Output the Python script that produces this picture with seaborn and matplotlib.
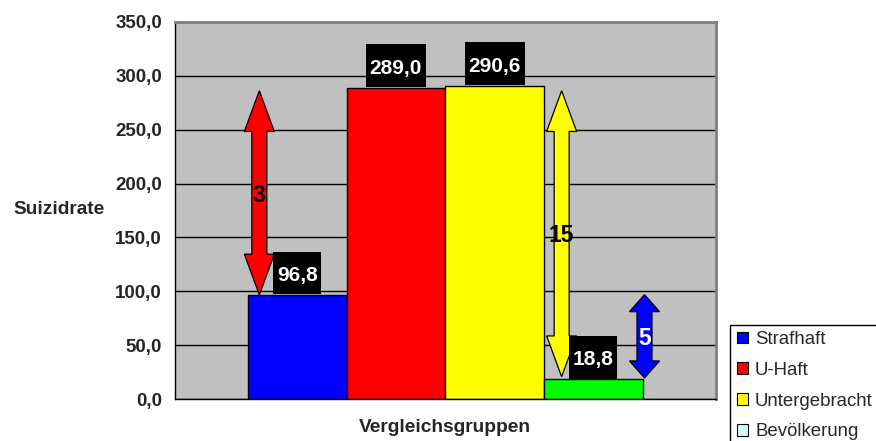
import matplotlib
matplotlib.use("Agg")
import matplotlib.pyplot as plt
import seaborn as sns
import pandas as pd
import numpy as np
from matplotlib.path import Path
from matplotlib.patches import Patch, Polygon
from matplotlib.ticker import FuncFormatter, MultipleLocator

# ---- data ----
groups = ["Strafhaft", "U-Haft", "Untergebracht", "Bevölkerung"]
values = [96.8, 289.0, 290.6, 18.8]
bar_colors = ["#0000FF", "#FF0000", "#FFFF00", "#00FF00"]
legend_colors = ["#0000FF", "#FF0000", "#FFFF00", "#CCFFFF"]
value_labels = ["96,8", "289,0", "290,6", "18,8"]
# ratio arrows
arrow_labels = ["3", "15", "5"]
arrow_x = [-0.385, 2.68, 3.52]
arrow_from = [96.8, 21.0, 19.8]
arrow_to = [286.0, 286.0, 97.0]
arrow_fill = ["#FF0000", "#FFFF00", "#0000FF"]
arrow_text_col = ["#000000", "#000000", "#FFFFFF"]
arrow_text_y = [189.0, 152.0, 56.0]
arrow_head_len_px = [40.7, 40.7, 17.0]

sns.set_style("white")
plt.rcParams["font.family"] = ["Liberation Sans", "DejaVu Sans"]

W, H, DPI = 876, 441, 100
fig = plt.figure(figsize=(W / DPI, H / DPI), dpi=DPI)
L, R, T, B = 174.5, 716.0, 21.7, 399.3
ax = fig.add_axes([L / W, (H - B) / H, (R - L) / W, (B - T) / H])
ax.set_facecolor("#C0C0C0")

df = pd.DataFrame({"Gruppe": groups, "Wert": values})
sns.barplot(data=df, x="Gruppe", y="Wert", hue="Gruppe", order=groups, hue_order=groups,
            palette=dict(zip(groups, bar_colors)), saturation=1.0, width=1.0, dodge=False,
            edgecolor="black", linewidth=1.0, legend=False, ax=ax, zorder=2)

xl0, xl1 = -1.245, 4.245
ax.set_xlim(xl0, xl1)
ax.set_ylim(0, 350)
ax.yaxis.set_major_locator(MultipleLocator(50))
ax.yaxis.set_major_formatter(FuncFormatter(lambda v, p: f"{v:.1f}".replace(".", ",")))
ax.set_xticks([xl0, xl1])
ax.set_xticklabels(["", ""])
ax.tick_params(axis="both", direction="out", length=6, width=1, color="black")
ax.tick_params(axis="y", labelsize=13.5, pad=3)
for lab in ax.get_yticklabels():
    lab.set_fontweight("bold")

ax.grid(axis="y", color="black", linewidth=1.0)
ax.grid(axis="x", visible=False)
ax.set_axisbelow(True)

for s in ["left", "bottom"]:
    ax.spines[s].set_color("black")
    ax.spines[s].set_linewidth(1.0)
for s in ["top", "right"]:
    ax.spines[s].set_color("#808080")
    ax.spines[s].set_linewidth(2.0)
    ax.spines[s].set_visible(True)

ax.set_xlabel("Vergleichsgruppen", fontsize=13.8, fontweight="bold", va="center")
ax.xaxis.set_label_coords(0.5, -(427.7 - B) / (B - T))
ax.set_ylabel("Suizidrate", fontsize=13.8, fontweight="bold", rotation=0, va="center", ha="center")
ax.yaxis.set_label_coords(-0.214, (B - 209) / (B - T))


# value label boxes (black, taller than text)
def label_box(x0, y0, width, height, mutation_size):
    ms = mutation_size
    base = y0 + 0.21 * ms
    xl = x0 - 0.18 * ms
    xr = x0 + width + 0.18 * ms
    yb = base - 0.67 * ms
    yt = base + 1.39 * ms
    return Path([(xl, yb), (xr, yb), (xr, yt), (xl, yt), (xl, yb)],
                [Path.MOVETO, Path.LINETO, Path.LINETO, Path.LINETO, Path.CLOSEPOLY])


for i, (v, lab) in enumerate(zip(values, value_labels)):
    ax.annotate(lab, xy=(i, v), xytext=(0, 14 * 72 / DPI), textcoords="offset points",
                ha="center", va="baseline", fontsize=15, fontweight="bold", color="white",
                bbox=dict(boxstyle=label_box, facecolor="black", edgecolor="none"), zorder=5)


# double arrows
def double_arrow(x, y0, y1, fc, head_len_px, shaft_px=15.0, head_w_px=30.0):
    (px, py0) = ax.transData.transform((x, y0))
    (_, py1) = ax.transData.transform((x, y1))
    hs, hw = shaft_px / 2, head_w_px / 2
    pts = [
        (px, py0),
        (px + hw, py0 + head_len_px),
        (px + hs, py0 + head_len_px),
        (px + hs, py1 - head_len_px),
        (px + hw, py1 - head_len_px),
        (px, py1),
        (px - hw, py1 - head_len_px),
        (px - hs, py1 - head_len_px),
        (px - hs, py0 + head_len_px),
        (px - hw, py0 + head_len_px),
    ]
    data_pts = ax.transData.inverted().transform(pts)
    ax.add_patch(Polygon(data_pts, closed=True, facecolor=fc, edgecolor="black",
                         linewidth=0.9, zorder=4))


for lab, x, a, b, fc, tc, ty, hl in zip(arrow_labels, arrow_x, arrow_from, arrow_to,
                                         arrow_fill, arrow_text_col, arrow_text_y, arrow_head_len_px):
    double_arrow(x, a, b, fc, hl)
    ax.text(x, ty, lab, ha="center", va="center", fontsize=16.5, fontweight="bold",
            color=tc, zorder=6)

# legend
handles = [Patch(facecolor=c, edgecolor="black", linewidth=0.8) for c in legend_colors]
leg = fig.legend(handles, groups, loc="upper left", bbox_to_anchor=(730 / W, (H - 324.5) / H),
                 bbox_transform=fig.transFigure, fontsize=13.4, frameon=True, fancybox=False,
                 handlelength=0.6, handleheight=0.6, handletextpad=0.4, labelspacing=0.74,
                 borderpad=0.35, borderaxespad=0)
leg.get_frame().set_edgecolor("black")
leg.get_frame().set_linewidth(1.0)
leg.get_frame().set_facecolor("white")
leg.get_frame().set_alpha(1)

fig.savefig("out.png", dpi=DPI)
